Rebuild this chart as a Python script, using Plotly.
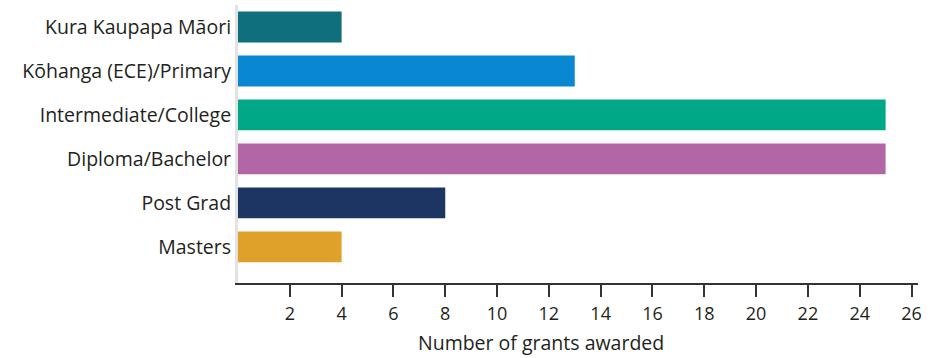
import plotly.graph_objects as go

categories = ["Kura Kaupapa Māori", "Kōhanga (ECE)/Primary", "Intermediate/College",
              "Diploma/Bachelor", "Post Grad", "Masters"]
values = [4, 13, 25, 25, 8, 4]
colors = ["#0f6f7b", "#0a87d1", "#00a887", "#b366a6", "#1c3563", "#e0a12a"]
tick_values = list(range(2, 27, 2))
x_title = "Number of grants awarded"

FONT = "Open Sans, Liberation Sans, sans-serif"

fig = go.Figure(go.Bar(
    x=values, y=categories, orientation="h",
    marker=dict(color=colors, line=dict(width=0)),
    width=0.7,
))

fig.update_layout(
    width=938, height=358,
    margin=dict(l=238, r=20, t=5, b=75),
    plot_bgcolor="white", paper_bgcolor="white",
    showlegend=False,
    font=dict(family=FONT, size=18, color="#231f20"),
    xaxis=dict(
        range=[0, 26.25], tickvals=tick_values, showgrid=False, zeroline=False,
        showline=True, linecolor="#333", linewidth=2,
        ticks="outside", ticklen=12, tickwidth=2, tickcolor="#333",
        tickfont=dict(size=18, family=FONT, color="#231f20"),
        ticklabelstandoff=1,
    ),
    yaxis=dict(
        categoryorder="array", categoryarray=categories,
        range=[5.82, -0.5], showgrid=False, zeroline=False,
        showline=True, linecolor="#e2e2e2", linewidth=3,
        ticks="", ticklen=0, ticklabelstandoff=0,
        tickfont=dict(size=19.5, family=FONT, color="#231f20"),
    ),
    annotations=[dict(
        text=x_title, xref="paper", yref="paper", x=0.446, y=-0.215,
        xanchor="center", yanchor="middle", showarrow=False,
        font=dict(size=19.5, family=FONT, color="#231f20"),
    )],
)

fig.write_html("out.html")
